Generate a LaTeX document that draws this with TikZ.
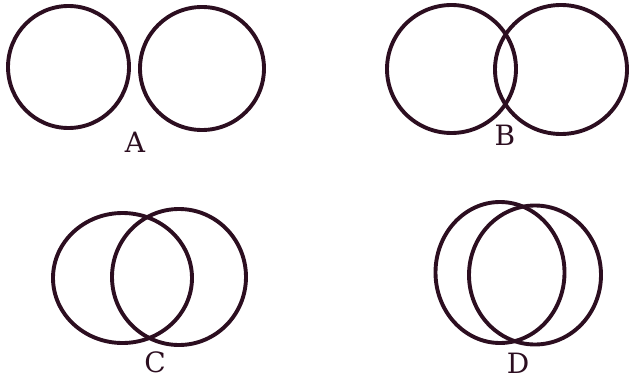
\documentclass[tikz,border=0pt]{standalone}
\usepackage{fontspec}
\newfontfamily\labfont{DejaVu Serif}
\definecolor{ink}{RGB}{44,14,32}
\tikzset{
  ring/.style={draw=ink, line width=3.9pt},
  lab/.style={inner sep=0pt, text=ink, font=\labfont\fontsize{28}{32}\selectfont}
}
\begin{document}
\begin{tikzpicture}[x=1pt,y=1pt]
\useasboundingbox (0,0) rectangle (631,381);
% A
\draw[ring] (68.5,314) ellipse [x radius=60.5, y radius=61];
\draw[ring] (202,312.5) ellipse [x radius=62, y radius=61.5];
\node[lab] (la) at (135,239) {A};
% B
\draw[ring] (451.5,312) ellipse [x radius=64.5, y radius=64];
\draw[ring] (561,311.5) ellipse [x radius=66, y radius=64.5];
\node[lab] (lb) at (505,246) {B};
% C
\draw[ring] (122.5,103) ellipse [x radius=69.5, y radius=65];
\draw[ring] (179,104) ellipse [x radius=67, y radius=68];
\node[lab] (lc) at (155,19) {C};
% D
\draw[ring] (500,108.5) ellipse [x radius=64.5, y radius=70.5];
\draw[ring] (535,106) ellipse [x radius=66, y radius=69.5];
\node[lab] (ld) at (518,18) {D};
\end{tikzpicture}
\end{document}
